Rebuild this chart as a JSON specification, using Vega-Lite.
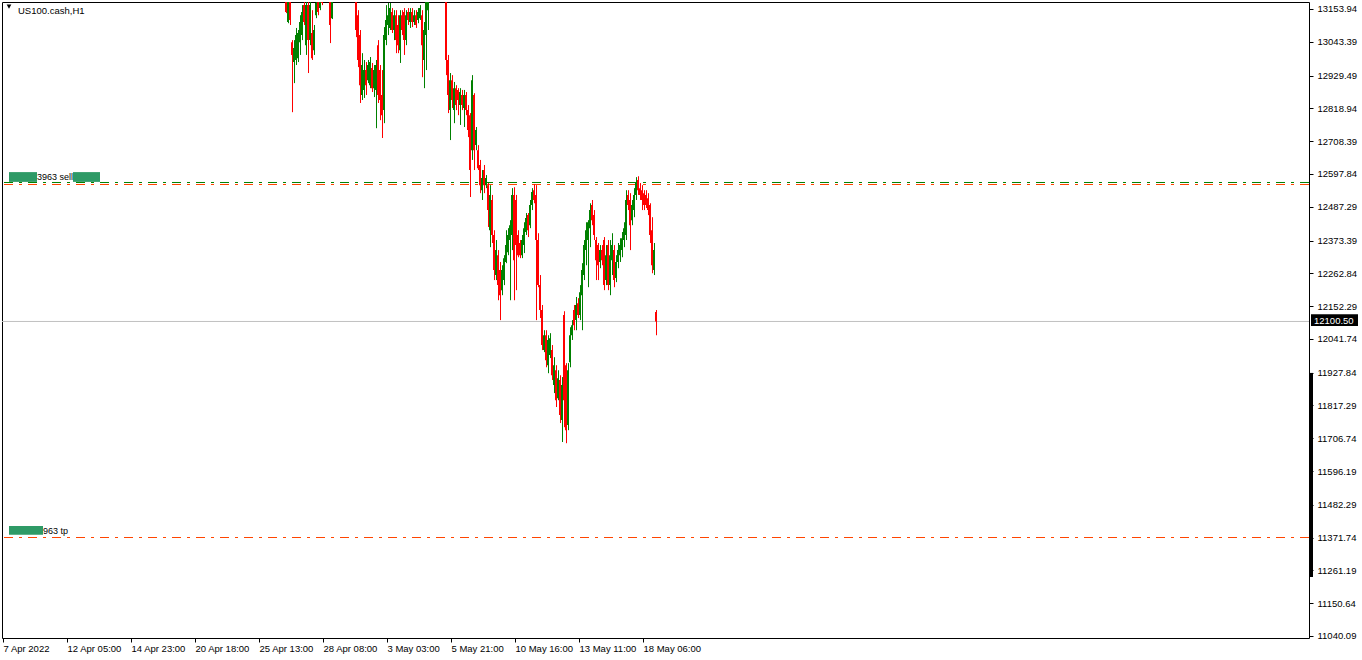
{
  "$schema": "https://vega.github.io/schema/vega-lite/v6.json",
  "autosize": "none",
  "width": 1307,
  "height": 636,
  "padding": {"left": 2, "top": 2, "right": 53, "bottom": 22},
  "background": "#ffffff",
  "datasets": {
    "candles": [
      {"i":284,"o":13201,"h":13218,"l":13140,"c":13144},
      {"i":286,"o":13110,"h":13218,"l":13106,"c":13201},
      {"i":288,"o":13201,"h":13218,"l":13100,"c":13117},
      {"i":290,"o":13042,"h":13049,"l":12806,"c":12999},
      {"i":292,"o":12975,"h":13049,"l":12904,"c":13022},
      {"i":294,"o":12982,"h":13090,"l":12965,"c":13066},
      {"i":296,"o":12988,"h":13083,"l":12975,"c":13073},
      {"i":298,"o":13042,"h":13133,"l":12999,"c":13110},
      {"i":300,"o":13066,"h":13167,"l":13049,"c":13144},
      {"i":302,"o":13167,"h":13184,"l":13100,"c":13110},
      {"i":304,"o":13032,"h":13201,"l":12999,"c":13167},
      {"i":306,"o":13167,"h":13201,"l":12938,"c":13049},
      {"i":308,"o":13049,"h":13201,"l":13032,"c":13167},
      {"i":310,"o":13073,"h":13150,"l":12982,"c":12988},
      {"i":312,"o":13015,"h":13100,"l":12999,"c":13083},
      {"i":314,"o":13133,"h":13201,"l":13123,"c":13174},
      {"i":316,"o":13177,"h":13201,"l":13133,"c":13144},
      {"i":318,"o":13157,"h":13218,"l":13150,"c":13201},
      {"i":320,"o":13218,"h":13251,"l":13167,"c":13174},
      {"i":322,"o":13230,"h":13290,"l":13215,"c":13270},
      {"i":324,"o":13270,"h":13320,"l":13255,"c":13300},
      {"i":326,"o":13300,"h":13315,"l":13240,"c":13260},
      {"i":328,"o":13201,"h":13218,"l":13039,"c":13100},
      {"i":330,"o":13123,"h":13218,"l":13120,"c":13201},
      {"i":332,"o":13210,"h":13280,"l":13195,"c":13260},
      {"i":334,"o":13260,"h":13330,"l":13245,"c":13310},
      {"i":336,"o":13310,"h":13340,"l":13270,"c":13290},
      {"i":338,"o":13290,"h":13360,"l":13275,"c":13340},
      {"i":340,"o":13340,"h":13370,"l":13300,"c":13320},
      {"i":342,"o":13320,"h":13380,"l":13305,"c":13360},
      {"i":344,"o":13360,"h":13375,"l":13310,"c":13330},
      {"i":346,"o":13330,"h":13345,"l":13280,"c":13300},
      {"i":348,"o":13300,"h":13340,"l":13285,"c":13320},
      {"i":350,"o":13320,"h":13330,"l":13250,"c":13270},
      {"i":352,"o":13270,"h":13285,"l":13215,"c":13230},
      {"i":354,"o":13218,"h":13235,"l":13059,"c":13083},
      {"i":356,"o":13133,"h":13150,"l":12958,"c":12982},
      {"i":358,"o":13066,"h":13083,"l":12837,"c":12897},
      {"i":360,"o":12864,"h":13005,"l":12847,"c":12965},
      {"i":362,"o":12881,"h":12982,"l":12854,"c":12948},
      {"i":364,"o":12948,"h":12975,"l":12864,"c":12897},
      {"i":366,"o":12914,"h":12982,"l":12904,"c":12965},
      {"i":368,"o":12897,"h":12992,"l":12887,"c":12975},
      {"i":370,"o":12955,"h":12972,"l":12874,"c":12887},
      {"i":372,"o":12887,"h":12965,"l":12857,"c":12948},
      {"i":374,"o":12881,"h":12982,"l":12752,"c":12965},
      {"i":376,"o":13032,"h":13049,"l":12837,"c":12864},
      {"i":378,"o":12948,"h":12965,"l":12779,"c":12847},
      {"i":380,"o":12864,"h":12948,"l":12719,"c":12796},
      {"i":382,"o":12813,"h":13093,"l":12769,"c":13066},
      {"i":384,"o":13049,"h":13167,"l":13032,"c":13117},
      {"i":386,"o":13100,"h":13174,"l":13066,"c":13133},
      {"i":388,"o":13090,"h":13174,"l":13083,"c":13157},
      {"i":390,"o":13144,"h":13157,"l":13073,"c":13083},
      {"i":392,"o":13083,"h":13150,"l":13049,"c":13133},
      {"i":394,"o":13133,"h":13150,"l":13005,"c":13049},
      {"i":396,"o":13100,"h":13133,"l":13005,"c":13032},
      {"i":398,"o":13015,"h":13150,"l":12972,"c":13133},
      {"i":400,"o":13133,"h":13150,"l":13066,"c":13083},
      {"i":402,"o":13144,"h":13157,"l":12999,"c":13049},
      {"i":404,"o":13049,"h":13150,"l":13032,"c":13133},
      {"i":406,"o":13144,"h":13157,"l":13100,"c":13117},
      {"i":408,"o":13110,"h":13157,"l":13090,"c":13144},
      {"i":410,"o":13144,"h":13157,"l":13093,"c":13110},
      {"i":412,"o":13110,"h":13150,"l":13100,"c":13133},
      {"i":414,"o":13133,"h":13150,"l":13090,"c":13100},
      {"i":416,"o":13117,"h":13157,"l":13106,"c":13144},
      {"i":418,"o":13123,"h":13167,"l":13117,"c":13157},
      {"i":420,"o":13133,"h":13150,"l":12924,"c":13032},
      {"i":422,"o":12982,"h":13110,"l":12887,"c":13083},
      {"i":424,"o":13066,"h":13218,"l":12948,"c":13184},
      {"i":426,"o":13150,"h":13285,"l":13083,"c":13251},
      {"i":428,"o":13251,"h":13310,"l":13230,"c":13290},
      {"i":430,"o":13290,"h":13320,"l":13255,"c":13270},
      {"i":432,"o":13270,"h":13330,"l":13255,"c":13310},
      {"i":434,"o":13310,"h":13360,"l":13295,"c":13340},
      {"i":436,"o":13340,"h":13365,"l":13300,"c":13320},
      {"i":438,"o":13320,"h":13340,"l":13285,"c":13300},
      {"i":440,"o":13300,"h":13320,"l":13260,"c":13280},
      {"i":442,"o":13280,"h":13295,"l":13210,"c":13230},
      {"i":444,"o":13218,"h":13251,"l":12931,"c":12982},
      {"i":446,"o":12982,"h":12999,"l":12803,"c":12864},
      {"i":448,"o":12813,"h":12938,"l":12712,"c":12914},
      {"i":450,"o":12914,"h":12931,"l":12820,"c":12847},
      {"i":452,"o":12813,"h":12908,"l":12769,"c":12887},
      {"i":454,"o":12887,"h":12897,"l":12813,"c":12830},
      {"i":456,"o":12881,"h":12887,"l":12796,"c":12847},
      {"i":458,"o":12830,"h":12887,"l":12763,"c":12874},
      {"i":460,"o":12864,"h":12881,"l":12813,"c":12830},
      {"i":462,"o":12820,"h":12881,"l":12756,"c":12864},
      {"i":464,"o":12864,"h":12874,"l":12796,"c":12813},
      {"i":466,"o":12813,"h":12830,"l":12722,"c":12746},
      {"i":468,"o":12796,"h":12803,"l":12520,"c":12611},
      {"i":470,"o":12678,"h":12931,"l":12645,"c":12914},
      {"i":472,"o":12864,"h":12870,"l":12611,"c":12678},
      {"i":474,"o":12695,"h":12756,"l":12678,"c":12746},
      {"i":476,"o":12678,"h":12695,"l":12611,"c":12617},
      {"i":478,"o":12628,"h":12645,"l":12533,"c":12560},
      {"i":480,"o":12543,"h":12611,"l":12510,"c":12584},
      {"i":482,"o":12611,"h":12628,"l":12533,"c":12560},
      {"i":484,"o":12560,"h":12594,"l":12550,"c":12584},
      {"i":486,"o":12560,"h":12567,"l":12419,"c":12476},
      {"i":488,"o":12408,"h":12560,"l":12351,"c":12527},
      {"i":490,"o":12510,"h":12527,"l":12365,"c":12392},
      {"i":492,"o":12392,"h":12408,"l":12240,"c":12274},
      {"i":494,"o":12257,"h":12375,"l":12240,"c":12341},
      {"i":496,"o":12324,"h":12341,"l":12172,"c":12223},
      {"i":498,"o":12274,"h":12301,"l":12105,"c":12189},
      {"i":500,"o":12206,"h":12290,"l":12189,"c":12274},
      {"i":502,"o":12240,"h":12324,"l":12223,"c":12314},
      {"i":504,"o":12301,"h":12408,"l":12297,"c":12358},
      {"i":506,"o":12334,"h":12415,"l":12324,"c":12392},
      {"i":508,"o":12375,"h":12442,"l":12172,"c":12425},
      {"i":510,"o":12392,"h":12550,"l":12341,"c":12527},
      {"i":512,"o":12527,"h":12553,"l":12172,"c":12307},
      {"i":514,"o":12510,"h":12527,"l":12206,"c":12358},
      {"i":516,"o":12392,"h":12408,"l":12317,"c":12324},
      {"i":518,"o":12365,"h":12375,"l":12314,"c":12324},
      {"i":520,"o":12324,"h":12392,"l":12314,"c":12375},
      {"i":522,"o":12358,"h":12435,"l":12331,"c":12415},
      {"i":524,"o":12402,"h":12466,"l":12392,"c":12449},
      {"i":526,"o":12459,"h":12466,"l":12385,"c":12408},
      {"i":528,"o":12425,"h":12510,"l":12415,"c":12493},
      {"i":530,"o":12493,"h":12550,"l":12476,"c":12537},
      {"i":532,"o":12543,"h":12564,"l":12499,"c":12510},
      {"i":534,"o":12527,"h":12560,"l":12105,"c":12375},
      {"i":536,"o":12375,"h":12398,"l":12216,"c":12223},
      {"i":538,"o":12223,"h":12257,"l":12112,"c":12139},
      {"i":540,"o":12139,"h":12156,"l":12004,"c":12021},
      {"i":542,"o":12004,"h":12071,"l":11997,"c":12054},
      {"i":544,"o":12054,"h":12071,"l":11946,"c":11970},
      {"i":546,"o":11953,"h":12054,"l":11926,"c":12038},
      {"i":548,"o":11987,"h":12061,"l":11977,"c":12044},
      {"i":550,"o":12004,"h":12021,"l":11903,"c":11919},
      {"i":552,"o":11886,"h":11980,"l":11859,"c":11953},
      {"i":554,"o":11936,"h":11953,"l":11812,"c":11835},
      {"i":556,"o":11842,"h":11936,"l":11835,"c":11909},
      {"i":558,"o":11903,"h":11919,"l":11758,"c":11785},
      {"i":560,"o":11768,"h":11913,"l":11694,"c":11886},
      {"i":562,"o":12122,"h":12135,"l":11744,"c":11835},
      {"i":564,"o":11953,"h":11960,"l":11690,"c":11734},
      {"i":566,"o":11751,"h":11960,"l":11734,"c":11936},
      {"i":568,"o":11963,"h":12081,"l":11946,"c":12054},
      {"i":570,"o":12054,"h":12105,"l":12038,"c":12088},
      {"i":572,"o":12139,"h":12156,"l":12071,"c":12088},
      {"i":574,"o":12105,"h":12183,"l":12071,"c":12156},
      {"i":576,"o":12162,"h":12179,"l":12112,"c":12122},
      {"i":578,"o":12122,"h":12223,"l":12105,"c":12199},
      {"i":580,"o":12189,"h":12297,"l":12071,"c":12274},
      {"i":582,"o":12257,"h":12375,"l":12240,"c":12358},
      {"i":584,"o":12341,"h":12435,"l":12290,"c":12408},
      {"i":586,"o":12375,"h":12442,"l":12216,"c":12435},
      {"i":588,"o":12415,"h":12499,"l":12351,"c":12476},
      {"i":590,"o":12493,"h":12510,"l":12425,"c":12442},
      {"i":592,"o":12459,"h":12476,"l":12375,"c":12392},
      {"i":594,"o":12375,"h":12385,"l":12240,"c":12307},
      {"i":596,"o":12358,"h":12365,"l":12240,"c":12290},
      {"i":598,"o":12301,"h":12358,"l":12280,"c":12341},
      {"i":600,"o":12341,"h":12358,"l":12290,"c":12307},
      {"i":602,"o":12375,"h":12385,"l":12206,"c":12223},
      {"i":604,"o":12240,"h":12358,"l":12223,"c":12324},
      {"i":606,"o":12358,"h":12375,"l":12206,"c":12223},
      {"i":608,"o":12223,"h":12375,"l":12189,"c":12324},
      {"i":610,"o":12307,"h":12398,"l":12257,"c":12358},
      {"i":612,"o":12341,"h":12358,"l":12216,"c":12240},
      {"i":614,"o":12247,"h":12324,"l":12233,"c":12301},
      {"i":616,"o":12301,"h":12365,"l":12280,"c":12341},
      {"i":618,"o":12324,"h":12381,"l":12301,"c":12358},
      {"i":620,"o":12341,"h":12402,"l":12317,"c":12381},
      {"i":622,"o":12375,"h":12435,"l":12351,"c":12415},
      {"i":624,"o":12392,"h":12543,"l":12375,"c":12510},
      {"i":626,"o":12527,"h":12543,"l":12476,"c":12493},
      {"i":628,"o":12510,"h":12533,"l":12341,"c":12425},
      {"i":630,"o":12442,"h":12510,"l":12425,"c":12493},
      {"i":632,"o":12476,"h":12550,"l":12452,"c":12527},
      {"i":634,"o":12527,"h":12587,"l":12510,"c":12567},
      {"i":636,"o":12577,"h":12590,"l":12527,"c":12543},
      {"i":638,"o":12550,"h":12567,"l":12510,"c":12527},
      {"i":640,"o":12543,"h":12560,"l":12476,"c":12510},
      {"i":642,"o":12533,"h":12543,"l":12476,"c":12493},
      {"i":644,"o":12527,"h":12543,"l":12483,"c":12493},
      {"i":646,"o":12516,"h":12533,"l":12459,"c":12476},
      {"i":648,"o":12493,"h":12499,"l":12365,"c":12392},
      {"i":650,"o":12408,"h":12452,"l":12263,"c":12290},
      {"i":652,"o":12274,"h":12365,"l":12257,"c":12341},
      {"i":654,"o":12132,"h":12139,"l":12054,"c":12100.5}
    ],
    "levels": [
      {"level":"bid","price":12100.5},
      {"level":"open","price":12569},
      {"level":"sl","price":12562.2},
      {"level":"tp","price":11372.1}
    ],
    "tagBoxes": [
      {"i1":7,"i2":35,"p1":12604,"p2":12571},
      {"i1":71,"i2":98,"p1":12604,"p2":12571},
      {"i1":7,"i2":41,"p1":11411,"p2":11381}
    ],
    "tagTexts": [
      {"i":35,"p":12588,"label":"3963 sell"},
      {"i":41,"p":11394,"label":"963 tp"}
    ],
    "bidBox": [{"i1":1309,"i2":1356,"p1":12125,"p2":12085,"ti":1312,"p":12103,"label":"12100.50"}],
    "scrollBar": [{"i":1309.5,"p1":11927,"p2":11239}],
    "symbol": [{"i":16,"ti":7,"p":13147,"tp":13162,"label":"US100.cash,H1"}]
  },
  "encoding": {
    "x": {"field": "i", "type": "quantitative", "title": null,
      "scale": {"domain": [0, 1307], "nice": false, "zero": false},
      "axis": {
        "values": [1, 65, 129, 193, 257, 321, 385, 449, 513, 577, 641],
        "labelExpr": "datum.value == 1 ? '7 Apr 2022' : datum.value == 65 ? '12 Apr 05:00' : datum.value == 129 ? '14 Apr 23:00' : datum.value == 193 ? '20 Apr 18:00' : datum.value == 257 ? '25 Apr 13:00' : datum.value == 321 ? '28 Apr 08:00' : datum.value == 385 ? '3 May 03:00' : datum.value == 449 ? '5 May 21:00' : datum.value == 513 ? '10 May 16:00' : datum.value == 577 ? '13 May 11:00' : '18 May 06:00'",
        "labelAlign": "left", "labelBaseline": "top", "labelDx": 2, "labelPadding": 1,
        "tickSize": 4, "tickColor": "#000000", "domain": false, "grid": false,
        "labelFont": "Liberation Sans", "labelFontSize": 9.5, "labelColor": "#000000",
        "labelFlush": false, "labelOverlap": false
      }
    },
    "y": {"field": "p", "type": "quantitative", "title": null,
      "scale": {"domain": [11033.3, 13177.5], "nice": false, "zero": false},
      "axis": {
        "orient": "right",
        "values": [13153.94, 13043.39, 12929.49, 12818.94, 12708.39, 12597.84, 12487.29, 12373.39, 12262.84, 12152.29, 12041.74, 11927.84, 11817.29, 11706.74, 11596.19, 11482.29, 11371.74, 11261.19, 11150.64, 11040.09],
        "format": ".2f", "tickSize": 4, "tickColor": "#000000", "labelPadding": 4,
        "domain": false, "grid": false, "labelFont": "Liberation Sans", "labelFontSize": 9.5,
        "labelColor": "#000000", "labelBaseline": "middle", "labelFlush": false, "labelOverlap": false
      }
    }
  },
  "layer": [
    {
      "data": {"name": "levels"},
      "mark": {"type": "rule", "strokeWidth": 1},
      "encoding": {
        "x": null,
        "y": {"field": "price", "type": "quantitative"},
        "color": {"field": "level", "type": "nominal", "legend": null,
          "scale": {"domain": ["bid", "open", "sl", "tp"], "range": ["#c0c0c0", "#008000", "#ff4500", "#ff4500"]}},
        "strokeDash": {"field": "level", "type": "nominal", "legend": null,
          "scale": {"domain": ["bid", "open", "sl", "tp"], "range": [[1, 0], [9, 6, 3, 6], [9, 6, 3, 6], [9, 6, 3, 6]]}}
      }
    },
    {
      "data": {"name": "candles"},
      "mark": {"type": "rule", "strokeWidth": 1, "clip": true, "xOffset": 0.5},
      "encoding": {
        "y": {"field": "l", "type": "quantitative"},
        "y2": {"field": "h"},
        "color": {"condition": {"test": "datum.c >= datum.o", "value": "#008000"}, "value": "#ff0000"}
      }
    },
    {
      "data": {"name": "candles"},
      "mark": {"type": "rule", "strokeWidth": 2, "clip": true},
      "encoding": {
        "y": {"field": "o", "type": "quantitative"},
        "y2": {"field": "c"},
        "color": {"condition": {"test": "datum.c >= datum.o", "value": "#008000"}, "value": "#ff0000"}
      }
    },
    {
      "data": {"name": "tagBoxes"},
      "mark": {"type": "rect", "fill": "#2e9a66"},
      "encoding": {
        "x": {"field": "i1", "type": "quantitative"},
        "x2": {"field": "i2"},
        "y": {"field": "p1", "type": "quantitative"},
        "y2": {"field": "p2"}
      }
    },
    {
      "data": {"name": "tagTexts"},
      "mark": {"type": "text", "align": "left", "baseline": "middle", "font": "Liberation Sans", "fontSize": 9, "color": "#000000"},
      "encoding": {
        "text": {"field": "label"}
      }
    },
    {
      "data": {"name": "bidBox"},
      "mark": {"type": "rect", "fill": "#000000", "clip": false},
      "encoding": {
        "x": {"field": "i1", "type": "quantitative"},
        "x2": {"field": "i2"},
        "y": {"field": "p1", "type": "quantitative"},
        "y2": {"field": "p2"}
      }
    },
    {
      "data": {"name": "bidBox"},
      "mark": {"type": "text", "align": "left", "baseline": "middle", "font": "Liberation Sans", "fontSize": 9.5, "color": "#ffffff", "clip": false},
      "encoding": {
        "x": {"field": "ti", "type": "quantitative"},
        "text": {"field": "label"}
      }
    },
    {
      "data": {"name": "scrollBar"},
      "mark": {"type": "rule", "strokeWidth": 3, "color": "#000000", "clip": false},
      "encoding": {
        "y": {"field": "p1", "type": "quantitative"},
        "y2": {"field": "p2"}
      }
    },
    {
      "data": {"name": "symbol"},
      "mark": {"type": "text", "align": "left", "baseline": "middle", "font": "Liberation Sans", "fontSize": 9.5, "color": "#000000"},
      "encoding": {
        "text": {"field": "label"}
      }
    },
    {
      "data": {"name": "symbol"},
      "mark": {"type": "point", "shape": "triangle-down", "filled": true, "size": 22, "color": "#000000", "opacity": 1},
      "encoding": {
        "x": {"field": "ti", "type": "quantitative"},
        "y": {"field": "tp", "type": "quantitative"}
      }
    }
  ],
  "config": {
    "view": {"stroke": "#000000", "strokeWidth": 1},
    "font": "Liberation Sans",
    "axis": {"labelOverlap": false}
  }
}
